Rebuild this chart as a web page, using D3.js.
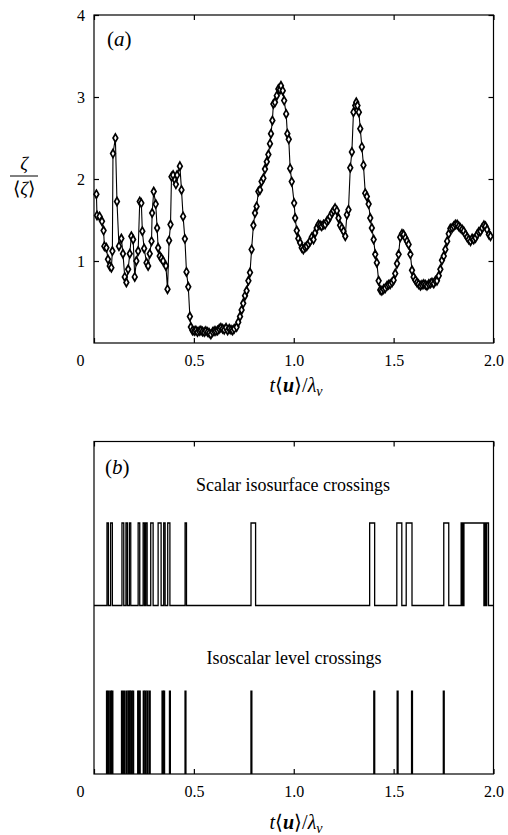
<!DOCTYPE html>
<html>
<head>
<meta charset="utf-8">
<script src="https://cdn.jsdelivr.net/npm/d3@7"></script>
<style>
  body { margin: 0; background: #fff; }
  svg { display: block; }
  .axis path, .axis line { stroke: #000; stroke-width: 1.2; }
  .axis text { font-family: "Liberation Serif", serif; font-size: 16px; fill: #000; }
  .lbl { font-family: "Liberation Serif", serif; fill: #000; }
</style>
</head>
<body>
<div id="chart-area"></div>
<script>
// panel (a): normalised zeta against t<u>/lambda_v
const tA = [
  0.012, 0.015, 0.028, 0.040, 0.048, 0.052, 0.062, 0.070, 0.079, 0.087,
  0.092, 0.095, 0.107, 0.115, 0.125, 0.137, 0.145, 0.154, 0.162, 0.171,
  0.179, 0.187, 0.196, 0.204, 0.212, 0.221, 0.229, 0.237, 0.242, 0.251,
  0.263, 0.271, 0.279, 0.288, 0.291, 0.299, 0.309, 0.316, 0.321, 0.329,
  0.338, 0.346, 0.360, 0.368, 0.376, 0.383, 0.388, 0.396, 0.405, 0.410,
  0.416, 0.430, 0.438, 0.446, 0.455, 0.463, 0.472, 0.480, 0.485, 0.493,
  0.502, 0.510, 0.518, 0.527, 0.535, 0.543, 0.552, 0.560, 0.569, 0.577,
  0.585, 0.594, 0.602, 0.610, 0.619, 0.627, 0.635, 0.644, 0.652, 0.661,
  0.669, 0.677, 0.686, 0.694, 0.702, 0.714, 0.722, 0.731, 0.739, 0.747,
  0.756, 0.764, 0.773, 0.781, 0.789, 0.798, 0.806, 0.814, 0.823, 0.831,
  0.839, 0.848, 0.856, 0.865, 0.873, 0.881, 0.886, 0.893, 0.898, 0.906,
  0.915, 0.923, 0.931, 0.936, 0.945, 0.952, 0.962, 0.968, 0.975, 0.982,
  0.990, 1.002, 1.007, 1.015, 1.023, 1.032, 1.040, 1.048, 1.057, 1.065,
  1.074, 1.082, 1.090, 1.099, 1.107, 1.115, 1.124, 1.132, 1.140, 1.149,
  1.157, 1.166, 1.174, 1.182, 1.191, 1.199, 1.207, 1.216, 1.224, 1.232,
  1.241, 1.249, 1.258, 1.266, 1.274, 1.283, 1.291, 1.299, 1.308, 1.313,
  1.319, 1.326, 1.333, 1.341, 1.349, 1.358, 1.366, 1.375, 1.383, 1.391,
  1.400, 1.408, 1.416, 1.425, 1.433, 1.441, 1.450, 1.458, 1.467, 1.475,
  1.483, 1.492, 1.500, 1.508, 1.517, 1.525, 1.533, 1.542, 1.550, 1.559,
  1.567, 1.575, 1.584, 1.592, 1.600, 1.609, 1.617, 1.625, 1.634, 1.642,
  1.651, 1.659, 1.667, 1.676, 1.684, 1.692, 1.701, 1.709, 1.717, 1.726,
  1.734, 1.742, 1.751, 1.759, 1.768, 1.776, 1.784, 1.793, 1.801, 1.809,
  1.818, 1.826, 1.834, 1.843, 1.851, 1.860, 1.868, 1.876, 1.885, 1.893,
  1.901, 1.910, 1.918, 1.926, 1.935, 1.943, 1.952, 1.960, 1.968, 1.977,
  1.985
];
const zetaA = [
  1.815, 1.556, 1.544, 1.484, 1.371, 1.181, 1.161, 1.020, 0.940, 0.919,
  1.121, 2.310, 2.500, 1.726, 1.181, 1.274, 1.089, 0.806, 0.738, 0.899,
  1.089, 1.302, 1.262, 0.806, 1.000, 1.121, 1.726, 1.706, 1.363, 1.153,
  0.980, 0.940, 1.089, 1.242, 1.585, 1.847, 1.694, 1.403, 1.161, 1.060,
  1.032, 1.000, 0.940, 0.657, 1.250, 1.444, 2.028, 2.048, 1.988, 1.935,
  2.048, 2.157, 1.867, 1.544, 1.270, 0.867, 0.685, 0.323, 0.194, 0.153,
  0.145, 0.153, 0.133, 0.145, 0.153, 0.140, 0.133, 0.145, 0.133, 0.121,
  0.105, 0.133, 0.145, 0.145, 0.153, 0.173, 0.185, 0.173, 0.161, 0.185,
  0.153, 0.173, 0.161, 0.153, 0.173, 0.194, 0.254, 0.323, 0.403, 0.484,
  0.577, 0.637, 0.758, 0.859, 1.141, 1.435, 1.585, 1.665, 1.847, 1.867,
  1.968, 2.008, 2.121, 2.210, 2.298, 2.431, 2.552, 2.714, 2.915, 2.935,
  3.016, 3.097, 3.089, 3.137, 3.077, 2.956, 2.794, 2.552, 2.484, 2.129,
  1.968, 1.706, 1.524, 1.371, 1.274, 1.222, 1.161, 1.141, 1.169, 1.181,
  1.210, 1.242, 1.290, 1.262, 1.343, 1.403, 1.444, 1.435, 1.423, 1.444,
  1.444, 1.484, 1.504, 1.544, 1.585, 1.613, 1.645, 1.613, 1.524, 1.435,
  1.403, 1.363, 1.302, 1.565, 1.625, 2.137, 2.330, 2.815, 2.895, 2.935,
  2.895, 2.815, 2.613, 2.391, 2.169, 1.827, 1.786, 1.694, 1.524, 1.403,
  1.262, 1.081, 0.980, 0.758, 0.645, 0.637, 0.657, 0.669, 0.698, 0.710,
  0.718, 0.738, 0.766, 0.847, 0.968, 1.081, 1.290, 1.331, 1.323, 1.282,
  1.242, 1.202, 1.081, 0.887, 0.806, 0.766, 0.738, 0.718, 0.698, 0.710,
  0.718, 0.710, 0.698, 0.718, 0.726, 0.738, 0.726, 0.758, 0.758, 0.819,
  0.899, 1.008, 1.060, 1.141, 1.242, 1.331, 1.395, 1.403, 1.423, 1.444,
  1.444, 1.423, 1.403, 1.383, 1.363, 1.323, 1.290, 1.262, 1.242, 1.274,
  1.262, 1.282, 1.323, 1.355, 1.363, 1.403, 1.435, 1.423, 1.383, 1.323,
  1.302
];

// panel (b): scalar isosurface crossings (up / down times of the pulses)
const scalarUp = [
  0.065, 0.083, 0.140, 0.160, 0.177, 0.221, 0.246, 0.259, 0.284, 0.321,
  0.349, 0.369, 0.456, 0.786, 1.380, 1.516, 1.563, 1.751, 1.838, 1.845,
  1.852, 1.958, 1.966
];
const scalarDown = [
  0.072, 0.092, 0.149, 0.167, 0.184, 0.229, 0.253, 0.266, 0.296, 0.336,
  0.356, 0.380, 0.463, 0.809, 1.405, 1.541, 1.592, 1.776, 1.841, 1.848,
  1.952, 1.962, 1.975
];
// isoscalar level crossings (spike times)
const levelCross = [
  0.065, 0.074, 0.085, 0.092, 0.140, 0.150, 0.162, 0.172, 0.179, 0.187,
  0.196, 0.221, 0.229, 0.249, 0.258, 0.268, 0.279, 0.343, 0.351, 0.380,
  0.458, 0.788, 1.403, 1.520, 1.592, 1.751
];

const xTicks = [0, 0.5, 1, 1.5, 2];
const xTickLabels = ['0', '0.5', '1.0', '1.5', '2.0'];
const yTicksA = [1, 2, 3, 4];

window.addEventListener('DOMContentLoaded', () => {

    const W = 508, H = 835;
    const left = 94, right = 493.5;

    const svg = d3.select('#chart-area')
        .append('svg')
        .attr('width', W)
        .attr('height', H);

    svg.append('rect').attr('width', W).attr('height', H).attr('fill', '#fff');

    const x = d3.scaleLinear().domain([0, 2]).range([left, right]);

    const fmtX = (d) => xTickLabels[xTicks.indexOf(d)];

    // ---------- panel (a) ----------
    const topA = 15, botA = 343;
    const yA = d3.scaleLinear().domain([0, 4]).range([botA, topA]);

    svg.append('rect')
        .attr('x', left).attr('y', topA)
        .attr('width', right - left).attr('height', botA - topA)
        .attr('fill', 'none').attr('stroke', '#000').attr('stroke-width', 1.2);

    const bottomA = svg.append('g')
        .attr('class', 'axis')
        .attr('transform', `translate(0,${botA})`)
        .call(d3.axisBottom(x).tickValues(xTicks).tickFormat(fmtX).tickSize(-5).tickPadding(12));
    bottomA.selectAll('.tick text').filter((d) => d === 0).attr('dx', -14);

    svg.append('g')
        .attr('class', 'axis')
        .attr('transform', `translate(0,${topA})`)
        .call(d3.axisTop(x).tickValues(xTicks).tickFormat('').tickSize(-5));

    svg.append('g')
        .attr('class', 'axis')
        .attr('transform', `translate(${left},0)`)
        .call(d3.axisLeft(yA).tickValues(yTicksA).tickFormat(d3.format('d')).tickSize(-5).tickPadding(9));

    svg.append('g')
        .attr('class', 'axis')
        .attr('transform', `translate(${right},0)`)
        .call(d3.axisRight(yA).tickValues(yTicksA).tickFormat('').tickSize(-5));

    svg.selectAll('.axis .domain').remove();

    const pts = tA.map((t, i) => ({ t: t, v: zetaA[i] }));

    const line = d3.line()
        .x((d) => x(d.t))
        .y((d) => yA(d.v));

    svg.append('path')
        .datum(pts)
        .attr('d', line)
        .attr('fill', 'none')
        .attr('stroke', '#000')
        .attr('stroke-width', 1.1);

    svg.append('g')
        .selectAll('path')
        .data(pts)
        .join('path')
            .attr('transform', (d) => `translate(${x(d.t)},${yA(d.v)})`)
            .attr('d', d3.symbol(d3.symbolDiamond).size(19))
            .attr('fill', '#fff')
            .attr('stroke', '#000')
            .attr('stroke-width', 1.7);

    svg.append('text')
        .attr('class', 'lbl')
        .attr('x', 107).attr('y', 46)
        .attr('font-size', 21)
        .html('(<tspan font-style="italic">a</tspan>)');

    // y label: zeta over <zeta>
    svg.append('text')
        .attr('class', 'lbl')
        .attr('x', 24).attr('y', 170)
        .attr('text-anchor', 'middle')
        .attr('font-size', 19).attr('font-style', 'italic')
        .text('ζ');
    svg.append('line')
        .attr('x1', 10).attr('x2', 38)
        .attr('y1', 176).attr('y2', 176)
        .attr('stroke', '#000').attr('stroke-width', 1);
    svg.append('text')
        .attr('class', 'lbl')
        .attr('x', 24).attr('y', 195)
        .attr('text-anchor', 'middle')
        .attr('font-size', 19)
        .html('⟨<tspan font-style="italic">ζ</tspan>⟩');

    const xTitle = (yPos) => {
        svg.append('text')
            .attr('class', 'lbl')
            .attr('x', 296).attr('y', yPos)
            .attr('text-anchor', 'middle')
            .attr('font-size', 20)
            .html('<tspan font-style="italic">t</tspan>⟨<tspan font-style="italic" font-weight="bold">u</tspan>⟩/<tspan font-style="italic">λ</tspan><tspan font-style="italic" font-size="14" dy="4">v</tspan>');
    };
    xTitle(392);

    // ---------- panel (b) ----------
    const topB = 441.5, botB = 774;

    svg.append('rect')
        .attr('x', left).attr('y', topB)
        .attr('width', right - left).attr('height', botB - topB)
        .attr('fill', 'none').attr('stroke', '#000').attr('stroke-width', 1.2);

    const bottomB = svg.append('g')
        .attr('class', 'axis')
        .attr('transform', `translate(0,${botB})`)
        .call(d3.axisBottom(x).tickValues(xTicks).tickFormat(fmtX).tickSize(-5).tickPadding(12));
    bottomB.selectAll('.tick text').filter((d) => d === 0).attr('dx', -14);

    svg.append('g')
        .attr('class', 'axis')
        .attr('transform', `translate(0,${topB})`)
        .call(d3.axisTop(x).tickValues(xTicks).tickFormat('').tickSize(-5));

    svg.selectAll('.axis .domain').remove();

    const yWave = d3.scaleLinear().domain([0, 1]).range([605.5, 523]);
    const ySpike = d3.scaleLinear().domain([0, 1]).range([botB, 690.5]);

    const wave = [{ t: 0, s: 0 }];
    scalarUp.forEach((u, i) => {
        wave.push({ t: u, s: 0 }, { t: u, s: 1 }, { t: scalarDown[i], s: 1 }, { t: scalarDown[i], s: 0 });
    });
    wave.push({ t: 2, s: 0 });

    svg.append('path')
        .datum(wave)
        .attr('d', d3.line().x((d) => x(d.t)).y((d) => yWave(d.s)))
        .attr('fill', 'none')
        .attr('stroke', '#000')
        .attr('stroke-width', 1.3);

    svg.append('g')
        .selectAll('line')
        .data(levelCross)
        .join('line')
            .attr('x1', (d) => x(d)).attr('x2', (d) => x(d))
            .attr('y1', ySpike(0)).attr('y2', ySpike(1))
            .attr('stroke', '#000')
            .attr('stroke-width', 2.2);

    svg.append('text')
        .attr('class', 'lbl')
        .attr('x', 105).attr('y', 474)
        .attr('font-size', 21)
        .html('(<tspan font-style="italic">b</tspan>)');

    svg.append('text')
        .attr('class', 'lbl')
        .attr('x', 293).attr('y', 491)
        .attr('text-anchor', 'middle')
        .attr('font-size', 18)
        .text('Scalar isosurface crossings');

    svg.append('text')
        .attr('class', 'lbl')
        .attr('x', 294).attr('y', 664)
        .attr('text-anchor', 'middle')
        .attr('font-size', 18)
        .text('Isoscalar level crossings');

    xTitle(829);

}); // End of document ready.
</script>
</body>
</html>
